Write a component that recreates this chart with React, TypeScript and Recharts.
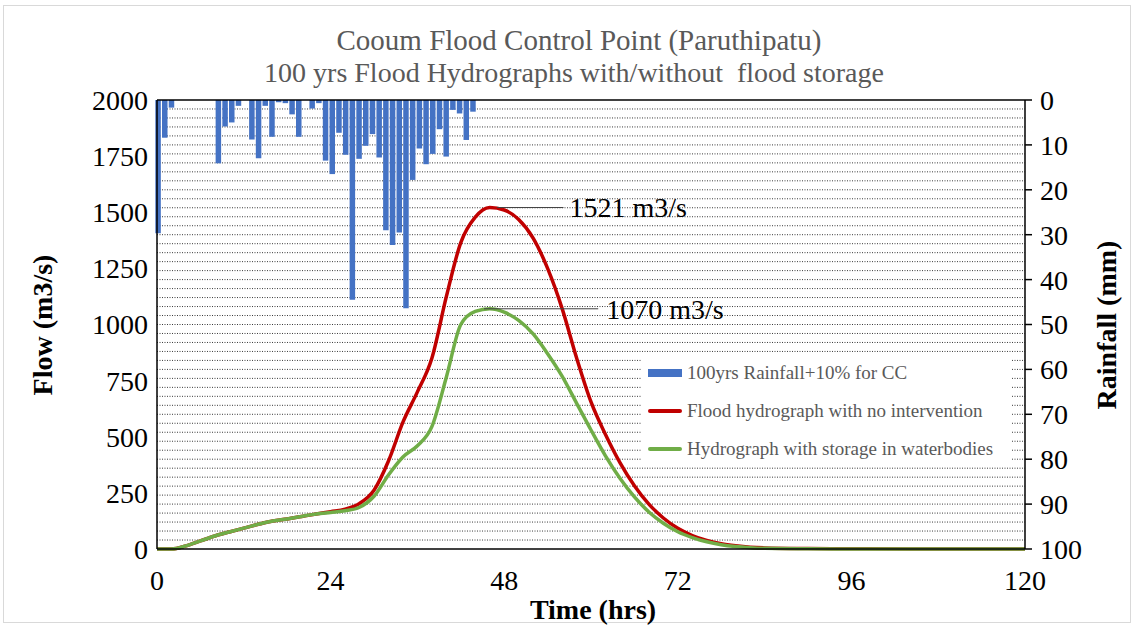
import {
  ComposedChart,
  Bar,
  Line,
  XAxis,
  YAxis,
  CartesianGrid,
  ReferenceLine,
} from "recharts";

// hydrograph time steps (hrs)
const hours = [
  0, 2, 4, 6, 8, 10, 12, 14, 16, 18, 20, 22, 24, 26, 28, 30, 32, 34, 36, 38, 40,
  42, 44, 46, 48, 50, 52, 54, 56, 58, 60, 62, 64, 66, 68, 70, 72, 74, 76, 78, 80,
  82, 84, 90, 96, 104, 112, 120,
];

// flow (m3/s)
const noIntervention = [
  0, 0, 14, 36, 58, 76, 93, 110, 125, 134, 145, 156, 166, 177, 203, 262, 392,
  565, 700, 850, 1124, 1365, 1478, 1521, 1510, 1468, 1385, 1250, 1072, 852, 655,
  510, 385, 282, 200, 138, 92, 60, 38, 23, 14, 8, 5, 2, 1, 0, 0, 0,
];

const withStorage = [
  0, 0, 14, 36, 58, 76, 93, 110, 125, 134, 145, 156, 163, 170, 186, 235, 330,
  410, 460, 545, 765, 1000, 1058, 1070, 1055, 1018, 958, 870, 770, 650, 530, 415,
  315, 232, 165, 115, 77, 51, 32, 19, 11, 6, 3, 1, 0, 0, 0, 0,
];

// rainfall (mm) per step
const rainfall = [
  29.7, 8.4, 1.7, 0, 0, 0, 0, 0, 0, 14.1, 5.9, 5.0, 1.3, 0, 8.8, 13.0, 1.3, 8.2,
  0.5, 0.7, 3.2, 8.2, 0, 1.9, 0.7, 13.5, 16.5, 7.3, 12.2, 44.5, 13.1, 10.2, 7.6,
  12.8, 29.0, 32.3, 29.5, 46.4, 17.8, 10.8, 14.3, 12.0, 6.5, 12.6, 2.2, 3.0, 8.9,
  2.6,
];

const flowTicks = [0, 250, 500, 750, 1000, 1250, 1500, 1750, 2000];
const rainTicks = [0, 10, 20, 30, 40, 50, 60, 70, 80, 90, 100];
const timeTicks = [0, 24, 48, 72, 96, 120];
// minor gridlines every 2 mm on the rainfall axis
const gridValues = Array.from({ length: 49 }, (_, i) => (i + 1) * 2);

const rows = Math.max(hours.length, rainfall.length);
const data = Array.from({ length: rows }, (_, i) => ({
  t: hours[i],
  red: noIntervention[i],
  green: withStorage[i],
  ri: i,
  rain: rainfall[i] ?? 0,
}));

const FONT = '"Liberation Serif", "Times New Roman", serif';
const tickStyle = { fontFamily: FONT, fontSize: 28, fill: "#000" };

function gridLines({ yAxis, offset }: any) {
  if (yAxis && typeof yAxis.scale === "function") {
    return gridValues.map((v) => yAxis.scale(v));
  }
  return gridValues.map((v) => offset.top + (offset.height * v) / 100);
}

export default function App() {
  return (
    <div
      style={{
        position: "absolute",
        left: 0,
        top: 0,
        width: 1134,
        height: 630,
        background: "#fff",
        fontFamily: FONT,
      }}
    >
      <div
        style={{
          position: "absolute",
          left: 3,
          top: 5,
          width: 1126,
          height: 616,
          border: "1px solid #d9d9d9",
        }}
      />
      <div style={{ position: "absolute", left: 0, top: 0 }}>
        <ComposedChart
          width={1134}
          height={630}
          data={data}
          margin={{ top: 100, right: 29, bottom: 41, left: 77 }}
        >
          <CartesianGrid
            yAxisId="rain"
            xAxisId="time"
            vertical={false}
            horizontalCoordinatesGenerator={gridLines}
            stroke="#3a3a3a"
            strokeDasharray="1 1.5"
          />
          <XAxis
            xAxisId="time"
            dataKey="t"
            type="number"
            domain={[0, 120]}
            ticks={timeTicks}
            tick={tickStyle}
            tickSize={0}
            tickMargin={21}
            height={40}
            axisLine={{ stroke: "#000", strokeWidth: 1.5 }}
          />
          <XAxis
            xAxisId="rain"
            dataKey="ri"
            type="number"
            domain={[-0.1, 129.45]}
            height={0}
            hide
          />
          <YAxis
            yAxisId="flow"
            domain={[0, 2000]}
            ticks={flowTicks}
            tick={tickStyle}
            tickSize={0}
            tickMargin={9}
            width={80}
            axisLine={{ stroke: "#000", strokeWidth: 1.5 }}
          />
          <YAxis
            yAxisId="rain"
            orientation="right"
            reversed
            domain={[0, 100]}
            ticks={rainTicks}
            tick={tickStyle}
            tickSize={7}
            tickMargin={8}
            width={80}
            tickLine={{ stroke: "#000", strokeWidth: 1.5 }}
            axisLine={{ stroke: "#000", strokeWidth: 1.5 }}
          />
          <ReferenceLine
            yAxisId="flow"
            xAxisId="time"
            y={2000}
            stroke="#000"
            strokeWidth={1.5}
          />
          <Bar
            xAxisId="rain"
            yAxisId="rain"
            dataKey="rain"
            fill="#4472C4"
            barSize={5.5}
            isAnimationActive={false}
          />
          <Line
            xAxisId="time"
            yAxisId="flow"
            dataKey="red"
            type="monotone"
            stroke="#C00000"
            strokeWidth={3.5}
            dot={false}
            isAnimationActive={false}
          />
          <Line
            xAxisId="time"
            yAxisId="flow"
            dataKey="green"
            type="monotone"
            stroke="#70AD47"
            strokeWidth={3.5}
            dot={false}
            isAnimationActive={false}
          />
          <ReferenceLine
            xAxisId="time"
            yAxisId="flow"
            segment={[
              { x: 47, y: 1521 },
              { x: 56.2, y: 1521 },
            ]}
            stroke="#404040"
            strokeWidth={1}
            label={{
              value: "1521 m3/s",
              position: "right",
              offset: 6,
              fill: "#000",
              fontSize: 28,
              fontFamily: FONT,
            }}
          />
          <ReferenceLine
            xAxisId="time"
            yAxisId="flow"
            segment={[
              { x: 45.2, y: 1070 },
              { x: 61, y: 1070 },
            ]}
            stroke="#404040"
            strokeWidth={1}
            label={{
              value: "1070 m3/s",
              position: "right",
              offset: 8,
              fill: "#000",
              fontSize: 28,
              fontFamily: FONT,
            }}
          />
        </ComposedChart>
      </div>

      {/* legend */}
      <div
        style={{
          position: "absolute",
          left: 641,
          top: 359,
          width: 370,
          height: 106,
          background: "#fff",
          color: "#595959",
          fontSize: 19,
        }}
      >
        {[
          { label: "100yrs Rainfall+10% for CC", color: "#4472C4", h: 8 },
          { label: "Flood hydrograph with no intervention", color: "#C00000", h: 3.5 },
          { label: "Hydrograph with storage in waterbodies", color: "#70AD47", h: 3.5 },
        ].map((item, i) => (
          <div
            key={i}
            style={{
              position: "absolute",
              left: 7,
              top: 1 + i * 38,
              height: 26,
              display: "flex",
              alignItems: "center",
              whiteSpace: "nowrap",
            }}
          >
            <span
              style={{
                display: "inline-block",
                width: 34,
                height: item.h,
                background: item.color,
                marginRight: 5,
                borderRadius: item.h < 5 ? 2 : 0,
              }}
            />
            {item.label}
          </div>
        ))}
      </div>

      <svg
        width={1134}
        height={630}
        style={{ position: "absolute", left: 0, top: 0, pointerEvents: "none" }}
        fontFamily={FONT}
      >
        <text x={579} y={50} textAnchor="middle" fontSize={29} fill="#595959">
          Cooum Flood Control Point (Paruthipatu)
        </text>
        <text x={574} y={82} textAnchor="middle" fontSize={28} fill="#595959">
          {"100 yrs Flood Hydrographs with/without\u00a0 flood storage"}
        </text>
        <text
          x={52}
          y={325}
          textAnchor="middle"
          fontSize={28}
          fontWeight="bold"
          transform="rotate(-90 52 325)"
        >
          Flow (m3/s)
        </text>
        <text
          x={1110}
          y={325}
          textAnchor="middle"
          fontSize={28}
          fontWeight="bold"
          transform="rotate(-90 1110 325)"
          dominantBaseline="middle"
        >
          Rainfall (mm)
        </text>
        <text x={593} y={619} textAnchor="middle" fontSize={28} fontWeight="bold">
          Time (hrs)
        </text>
      </svg>
    </div>
  );
}
